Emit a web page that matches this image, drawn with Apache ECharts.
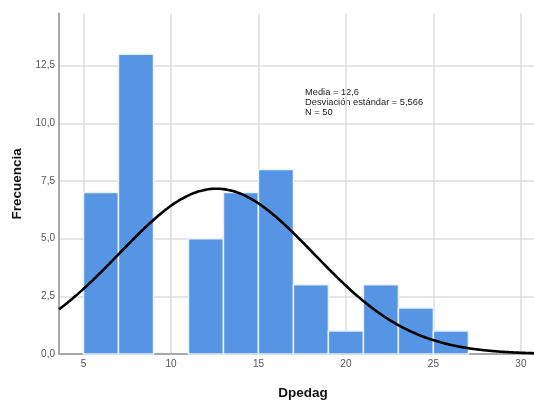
<!DOCTYPE html>
<html>
<head>
<meta charset="utf-8">
<script src="https://cdn.jsdelivr.net/npm/echarts@6/dist/echarts.min.js"></script>
<style>
  html, body { margin: 0; padding: 0; background: #fff; }
  #chart { width: 534px; height: 405px; }
</style>
</head>
<body>
<div id="chart"></div>
<script>
// Histogram of Dpedag: bins of width 2 starting at these values
const binStarts = [5, 7, 9, 11, 13, 15, 17, 19, 21, 23, 25];
const counts    = [7, 13, 0, 5, 7, 8, 3, 1, 3, 2, 1];
const binWidth = 2;

// Summary statistics shown in the annotation
const mean = 12.6;
const sd = 5.566;
const n = 50;

const xTicks = [5, 10, 15, 20, 25, 30];
const yTicks = [0, 2.5, 5, 7.5, 10, 12.5];

const xMin = 3.6, xMax = 30.75;
const yMax = 14.76;

// Normal curve scaled to the histogram counts (N * bin width * density)
const curve = [];
const steps = 280;
for (let i = 0; i <= steps; i++) {
  const x = xMin + (xMax - xMin) * i / steps;
  const z = (x - mean) / sd;
  const y = n * binWidth * Math.exp(-0.5 * z * z) / (sd * Math.sqrt(2 * Math.PI));
  curve.push([x, y]);
}

const bars = binStarts.map((s, i) => [s, s + binWidth, counts[i]]).filter(d => d[2] > 0);

const fmtComma = v => v.toFixed(1).replace('.', ',');

const chart = echarts.init(document.getElementById('chart'));
chart.setOption({
  animation: false,
  grid: { left: 59, right: 0, top: 13.6, bottom: 44.5 },
  xAxis: {
    type: 'value',
    min: xMin, max: xMax,
    name: 'Dpedag',
    nameLocation: 'middle',
    nameGap: 32,
    nameTextStyle: { fontFamily: 'Liberation Sans', fontWeight: 'bold', fontSize: 13.5, color: '#111', padding: [0, 0, 0, 13] },
    axisLine: { show: true, onZero: false, lineStyle: { color: '#a8a8a8', width: 2 } },
    axisTick: { show: false, customValues: xTicks },
    axisLabel: { customValues: xTicks, fontFamily: 'Liberation Sans', fontSize: 10, color: '#555', margin: 5 },
    splitLine: { show: true, lineStyle: { color: '#dcdcdc', width: 1.5 } }
  },
  yAxis: {
    type: 'value',
    min: 0, max: yMax,
    name: 'Frecuencia',
    nameLocation: 'middle',
    nameGap: 34,
    nameTextStyle: { fontFamily: 'Liberation Sans', fontWeight: 'bold', fontSize: 13.5, color: '#111' },
    axisLine: { show: true, lineStyle: { color: '#a8a8a8', width: 2 } },
    axisTick: { show: false, customValues: yTicks },
    axisLabel: { customValues: yTicks, formatter: fmtComma, fontFamily: 'Liberation Sans', fontSize: 10, color: '#555', margin: 4 },
    splitLine: { show: true, lineStyle: { color: '#dcdcdc', width: 1.5 } }
  },
  graphic: [{
    type: 'text',
    left: 305, top: 88,
    style: {
      text: 'Media = 12,6\nDesviación estándar = 5,566\nN = 50',
      fontFamily: 'Liberation Sans',
      fontSize: 9.3,
      lineHeight: 9.7,
      fill: '#222'
    }
  }],
  series: [
    {
      type: 'custom',
      data: bars,
      encode: { x: [0, 1], y: 2 },
      renderItem: function (params, api) {
        const p0 = api.coord([api.value(0), api.value(2)]);
        const p1 = api.coord([api.value(1), 0]);
        return {
          type: 'rect',
          shape: { x: p0[0], y: p0[1], width: p1[0] - p0[0], height: p1[1] - p0[1] },
          style: { fill: '#5694e4', stroke: '#e8f0fb', lineWidth: 1.5 }
        };
      },
      z: 2
    },
    {
      type: 'line',
      data: curve,
      showSymbol: false,
      smooth: true,
      lineStyle: { color: '#000', width: 2.6 },
      z: 3
    }
  ]
});
</script>
</body>
</html>
